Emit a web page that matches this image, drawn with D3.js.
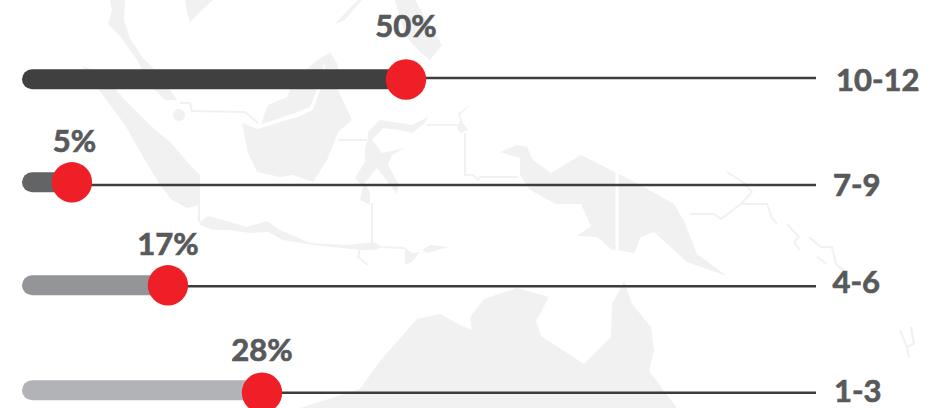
<!DOCTYPE html>
<html>
<head>
<meta charset="utf-8">
<script src="https://cdn.jsdelivr.net/npm/d3@7/dist/d3.min.js"></script>
<style>
html,body{margin:0;padding:0;background:#fff;overflow:hidden}
svg{display:block}
text{font-family:Lato,"Open Sans",sans-serif;font-weight:700;fill:#58595b;stroke:#58595b;stroke-width:0.7px}
</style>
</head>
<body>
<svg id="chart" width="947" height="408"></svg>
<script>
// Data
const categories = ["10-12", "7-9", "4-6", "1-3"];
const labelValues = [50, 5, 17, 28];          // percentages printed on the chart
const plottedValues = [50, 6.5, 19, 31.25];   // where the marker actually sits, read on a 0-100 track
const barColors = ["#404040", "#636466", "#939598", "#b1b3b6"];

// Layout
const W = 947, H = 408;
const rowCentres = [79.3, 182.3, 285.3, 390.3];
const lineOffsets = [-1.3, 2.7, 1, 2.4];
const dotOffsets = [0.2, 0, 0, 2.4];
const valueBaselines = [36.7, 152.3, 255, 360.7];
const catBaselines = [90.7, 195.7, 293.3, 402];
const catStarts = [836, 833, 832.5, 834];
const trackEnd = 816;

// Decorative map backdrop
const mapFills = [
  [[110,0],[125,0],[124,20],[130,38],[142,57],[160,75],[177,100],[165,100],[150,85],[137,60],[120,36],[108,24],[112,10]],
  [[82,66],[100,72],[125,100],[150,125],[170,142],[190,165],[200,175],[200,200],[199,205],[187,208],[172,200],[160,185],[145,160],[125,125],[105,98]],
  [[263,118],[268,105],[287,97],[290,90],[300,75],[315,62],[330,52],[322,70],[317,90],[310,107],[295,113],[280,118],[262,124]],
  [[242,123],[258,129],[280,122],[298,117],[313,110],[320,90],[326,60],[330,52],[338,65],[338,90],[352,120],[338,132],[335,140],[327,160],[313,182],[293,175],[280,177],[257,172],[248,153]],
  [[185,0],[213,0],[200,12],[190,22],[187,12]],
  [[335,24],[350,8],[358,0],[362,0],[345,20]],
  [[395,0],[415,0],[425,18],[442,45],[430,60],[418,50],[405,35]],
  [[368,140],[368,132],[380,120],[400,123],[412,125],[428,117],[425,123],[412,133],[400,130],[383,128],[372,140],[382,153],[405,148],[392,155],[388,165],[398,183],[397,194],[390,185],[377,168],[365,183],[370,193],[370,205],[360,200],[363,187],[355,178],[365,162],[365,147]],
  [[470,105],[460,115],[463,123],[468,130],[460,133],[457,128],[460,120],[458,113]],
  [[500,152],[517,145],[527,147],[533,160],[551,173],[581,155],[611,170],[640,185],[674,204],[684,221],[697,254],[727,276],[687,262],[654,232],[641,237],[634,253],[617,250],[612,250],[597,237],[577,236],[591,226],[581,204],[556,204],[530,190],[520,175],[520,158]],
  [[200,222],[208,216],[230,222],[247,227],[267,221],[280,230],[310,243],[347,245],[373,242],[383,247],[375,250],[360,250],[343,248],[313,245],[283,240],[268,232],[250,233],[230,230],[213,230],[200,225]],
  [[405,248],[412,253],[420,252],[412,262],[405,265]],
  [[422,250],[430,245],[448,247],[427,253]],
  [[300,408],[360,389],[380,361],[417,319],[440,314],[462,326],[472,330],[470,317],[484,299],[517,288],[549,297],[536,321],[541,336],[584,364],[611,337],[612,304],[624,281],[632,304],[651,327],[654,351],[649,371],[677,408]]
];
const mapLines = [
  [[180,103],[190,103],[192,111],[245,112],[258,123]],
  [[338,140],[367,140]],
  [[427,125],[460,125]],
  [[465,133],[465,175],[473,175],[478,180],[480,177],[518,177]],
  [[372,203],[372,242]],
  [[199,200],[199,222]],
  [[360,248],[358,257],[368,265]],
  [[383,247],[405,248]],
  [[727,172],[744,183],[752,192],[741,204],[721,219],[714,214],[690,214]],
  [[741,204],[767,204],[772,218],[777,224]],
  [[787,224],[799,237],[794,242],[800,250]],
  [[809,237],[821,247],[832,247],[836,264],[844,271]],
  [[817,257],[827,264]],
  [[900,330],[907,347],[909,357]],
  [[911,327],[914,344],[907,347]]
];
const mapWhite = [
  [[617,170],[617,252]]
];

// Scales
const x = d3.scaleLinear().domain([0, 100]).range([22, 790]);
const y = d3.scaleOrdinal().domain(categories).range(rowCentres);

const rows = categories.map((c, i) => ({
  cat: c, label: labelValues[i], value: plottedValues[i], color: barColors[i], i
}));

const svg = d3.select("#chart");
svg.append("rect").attr("width", W).attr("height", H).attr("fill", "#fff");

// Backdrop
const pathGen = d3.line();
const map = svg.append("g");
map.selectAll("path.land").data(mapFills).join("path")
  .attr("class", "land").attr("d", d => pathGen(d) + "Z").attr("fill", "#f1f1f2");
map.append("circle").attr("cx", 179).attr("cy", 115).attr("r", 6).attr("fill", "#f1f1f2");
map.selectAll("path.thin").data(mapLines).join("path")
  .attr("class", "thin").attr("d", pathGen).attr("fill", "none")
  .attr("stroke", "#f1f1f2").attr("stroke-width", 2);
map.selectAll("path.gap").data(mapWhite).join("path")
  .attr("class", "gap").attr("d", pathGen).attr("fill", "none")
  .attr("stroke", "#fff").attr("stroke-width", 3);

// Rows
const g = svg.append("g").selectAll("g").data(rows).join("g");

g.append("line")
  .attr("x1", d => x(d.value)).attr("x2", trackEnd)
  .attr("y1", d => y(d.cat) + lineOffsets[d.i]).attr("y2", d => y(d.cat) + lineOffsets[d.i])
  .attr("stroke", "#3d3d3f").attr("stroke-width", 2.6);

g.append("rect")
  .attr("x", x(0)).attr("y", d => y(d.cat) - 10)
  .attr("width", d => x(d.value) - x(0)).attr("height", 20)
  .attr("rx", 10).attr("fill", d => d.color);

g.append("circle")
  .attr("cx", d => x(d.value)).attr("cy", d => y(d.cat) + dotOffsets[d.i])
  .attr("r", 20.2).attr("fill", "#ee1f26");

g.append("text")
  .attr("x", d => x(d.value) + (d.i === 1 ? 2.5 : 0)).attr("y", d => valueBaselines[d.i])
  .attr("text-anchor", "middle").attr("font-size", 31)
  .text(d => d.label + "%");

g.append("text")
  .attr("x", d => catStarts[d.i]).attr("y", d => catBaselines[d.i])
  .attr("font-size", 31)
  .text(d => d.cat);
</script>
</body>
</html>
